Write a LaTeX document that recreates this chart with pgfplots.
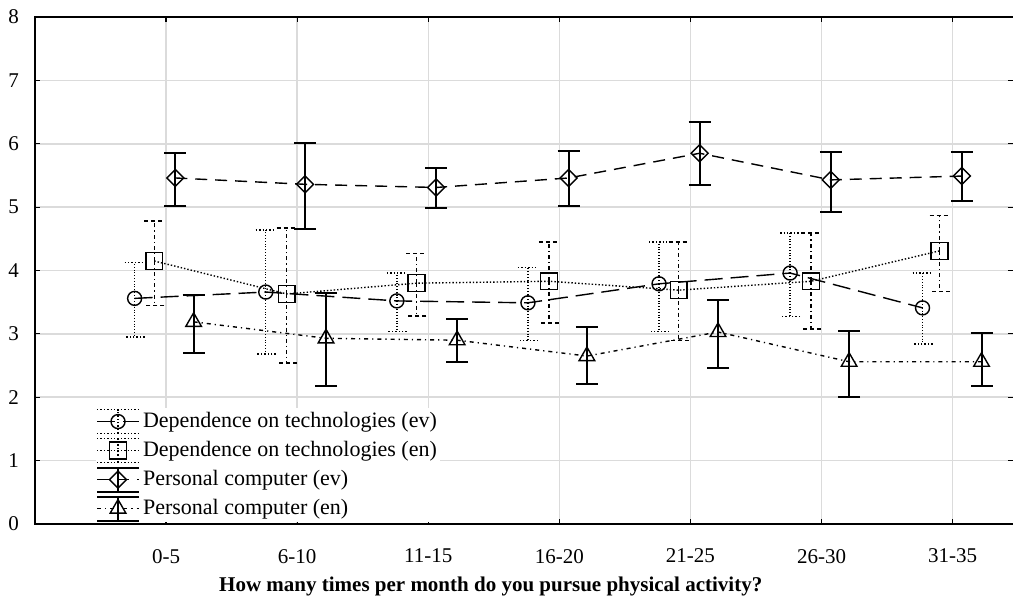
\documentclass[border=0pt]{standalone}
\usepackage{fontspec}
\setmainfont{Liberation Serif}
\usepackage{pgfplots}
\usepackage{pgfplotstable}
\pgfplotsset{compat=1.18}

% x = category index (0 = 0-5) + small offset per series
\pgfplotstableread{
x y ep em
-0.24 3.56 0.57 0.61
0.76 3.66 0.98 0.98
1.76 3.52 0.44 0.48
2.76 3.49 0.56 0.59
3.76 3.79 0.66 0.75
4.76 3.96 0.63 0.69
5.77 3.41 0.55 0.57
}\depev
\pgfplotstableread{
x y ep em
-0.09 4.15 0.63 0.70
0.92 3.63 1.04 1.09
1.91 3.80 0.47 0.52
2.92 3.83 0.62 0.66
3.91 3.69 0.76 0.79
4.92 3.83 0.76 0.75
5.90 4.31 0.56 0.64
}\depen
\pgfplotstableread{
x y ep em
0.07 5.46 0.39 0.44
1.06 5.36 0.65 0.71
2.06 5.31 0.31 0.33
3.07 5.46 0.42 0.44
4.07 5.85 0.49 0.50
5.07 5.43 0.44 0.51
6.07 5.49 0.38 0.40
}\pcev
\pgfplotstableread{
x y ep em
0.21 3.19 0.42 0.49
1.22 2.93 0.71 0.75
2.22 2.90 0.33 0.35
3.21 2.65 0.46 0.44
4.21 3.03 0.50 0.57
5.21 2.56 0.48 0.56
6.22 2.56 0.45 0.38
}\pcen

\pgfplotsset{
  dotcaps/.style={legend image code/.code={
    \draw[densely dotted, line width=0.7pt] (0pt,-6pt) -- (21pt,-6pt) (0pt,6pt) -- (21pt,6pt) (10.5pt,-6pt) -- (10.5pt,6pt);
    \draw[mark repeat=2, mark phase=2] plot coordinates {(0pt,0pt) (10.5pt,0pt) (21pt,0pt)};}},
  solidcaps/.style={legend image code/.code={
    \draw[solid, line width=1pt] (0pt,-6pt) -- (21pt,-6pt) (0pt,6pt) -- (21pt,6pt) (10.5pt,-6pt) -- (10.5pt,6pt);
    \draw[mark repeat=2, mark phase=2] plot coordinates {(0pt,0pt) (10.5pt,0pt) (21pt,0pt)};}},
}

\begin{document}
\begin{tikzpicture}
\begin{axis}[
  at={(0,0)}, anchor=south west,
  scale only axis, width=489pt, height=253.5pt,
  xmin=-1, xmax=6.46, ymin=0, ymax=8,
  clip=false,
  xtick={0,...,6},
  xticklabels={0-5,6-10,11-15,16-20,21-25,26-30,31-35},
  ytick={0,...,8},
  grid=major, grid style={draw=black!14, line width=0.75pt},
  axis line style={draw=none},
  tick style={black, line width=0.6pt}, major tick length=2.5pt,
  tick label style={font=\fontsize{10.5}{12}\selectfont},
  /pgf/number format/assume math mode=true,
  yticklabel style={xshift=-4.5pt},
  xticklabel style={yshift=-9pt},
  xlabel={How many times per month do you pursue physical activity?},
  every axis x label/.style={at={(rel axis cs:0.466,0)}, anchor=center, yshift=-31pt,
    font=\bfseries\fontsize{10.5}{12}\selectfont},
  legend style={at={(rel axis cs:0.062,0.003)}, anchor=south west, draw=none, fill=white,
    inner sep=0pt, row sep=1pt, font=\fontsize{11}{13}\selectfont,
    nodes={text height=8pt, text depth=2.5pt, inner sep=1.5pt}},
  legend cell align=left,
]
\addplot[black, line width=0.7pt, dash pattern=on 9pt off 4pt,
  mark=o, mark size=3.5pt, mark options={solid}, dotcaps,
  error bars/.cd, y dir=both, y explicit,
  error bar style={densely dotted, line width=0.7pt},
  error mark options={rotate=90, mark size=5pt, densely dotted, line width=0.7pt}]
  table[x=x, y=y, y error plus=ep, y error minus=em]{\depev};
\addlegendentry{Dependence on technologies (ev)}
\addplot[black, line width=0.7pt, densely dotted,
  mark=square, mark size=4.2pt, mark options={solid}, dotcaps,
  error bars/.cd, y dir=both, y explicit,
  error bar style={dash pattern=on 2pt off 1.5pt on 0.6pt off 1.5pt, line width=0.7pt},
  error mark options={rotate=90, mark size=5pt, dash pattern=on 2pt off 1.5pt, line width=0.7pt}]
  table[x=x, y=y, y error plus=ep, y error minus=em]{\depen};
\addlegendentry{Dependence on technologies (en)}
\addplot[black, line width=0.7pt, dash pattern=on 6pt off 4pt,
  mark=square, mark size=3pt, mark options={solid, rotate=45}, solidcaps,
  error bars/.cd, y dir=both, y explicit,
  error bar style={solid, line width=1pt},
  error mark options={rotate=90, mark size=5.5pt, solid, line width=1pt}]
  table[x=x, y=y, y error plus=ep, y error minus=em]{\pcev};
\addlegendentry{Personal computer (ev)}
\addplot[black, line width=0.7pt, dash pattern=on 2pt off 2pt on 0.6pt off 2pt,
  mark=triangle, mark size=4.5pt, mark options={solid}, solidcaps,
  error bars/.cd, y dir=both, y explicit,
  error bar style={solid, line width=1pt},
  error mark options={rotate=90, mark size=5.5pt, solid, line width=1pt}]
  table[x=x, y=y, y error plus=ep, y error minus=em]{\pcen};
\addlegendentry{Personal computer (en)}
\draw[line width=1pt] (rel axis cs:1,1) -- (rel axis cs:0,1) -- (rel axis cs:0,0) -- (rel axis cs:1,0);
\end{axis}
\pgfresetboundingbox
\path (-17.5pt,-37pt) rectangle (489pt,262pt);
\end{tikzpicture}
\end{document}
